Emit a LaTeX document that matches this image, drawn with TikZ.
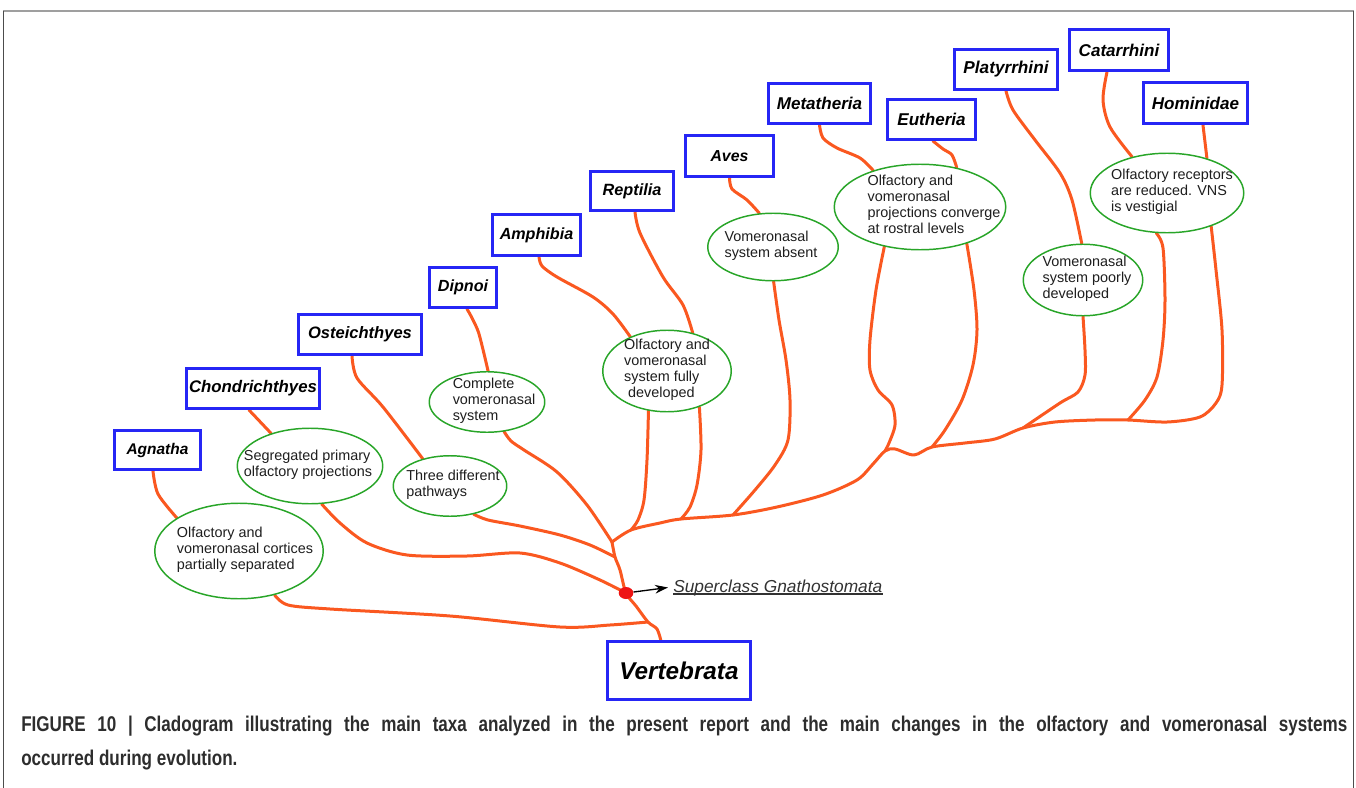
\documentclass[tikz,border=0pt]{standalone}
\usepackage{fontspec}
\setmainfont{Liberation Sans}
\newfontfamily\capfont[FakeStretch=0.8]{Liberation Sans}
\usetikzlibrary{shapes.geometric,arrows.meta}
\pgfdeclarelayer{background}
\pgfsetlayers{background,main}
\newdimen\pxu \pxu=0.75pt
\definecolor{taxblue}{RGB}{38,38,245}
\definecolor{brorange}{RGB}{250,88,32}
\definecolor{trgreen}{RGB}{40,165,40}
\definecolor{txtgray}{RGB}{30,30,30}
\definecolor{supgray}{RGB}{50,50,50}
\definecolor{capgray}{RGB}{45,45,45}
\definecolor{dotred}{RGB}{238,20,20}
\newcommand{\ztext}[2]{\makebox[0pt]{\hspace*{#1\pxu}\raisebox{-0.4em}{\smash{\begin{tabular}{@{}l@{}}#2\end{tabular}}}}}
\begin{document}
\begin{tikzpicture}[x=0.75pt,y=-0.75pt,
  sz/.style 2 args={minimum width={(#1)*0.75pt}, minimum height={(#2)*0.75pt}},
  tf/.style={font=\bfseries\itshape\fontsize{#1}{#1}\selectfont},
  taxon/.style={draw=taxblue, line width=2.25pt, fill=white, inner sep=0pt, text=black},
  trait/.style={ellipse, draw=trgreen, line width=1.1pt, fill=white, inner sep=0pt, text=txtgray,
    font=\fontsize{10.8}{12}\selectfont},
  branch/.style={draw=brorange, line width=2.25pt, line cap=round, line join=round},
]
\useasboundingbox (0,0) rectangle (1356,788);
% frame
\draw[gray!75, line width=1.5pt] (3,11) -- (1354,11);
\draw[black!70, line width=0.75pt] (3.5,11) -- (3.5,788);
\draw[black!70, line width=0.75pt] (1353.5,11) -- (1353.5,788);

% taxa boxes
\node[taxon, sz={86}{39},  tf=11.6] (agn) at (157.5,450)   {Agnatha};
\node[taxon, sz={133}{40}, tf=12.6] (cho) at (253,388.5)   {Chondrichthyes};
\node[taxon, sz={123}{40}, tf=12.4] (ost) at (360,334.5)   {Osteichthyes};
\node[taxon, sz={67}{40},  tf=12.1] (dip) at (463,287.5)   {Dipnoi};
\node[taxon, sz={88}{41},  tf=12.1] (amp) at (536.5,235)   {Amphibia};
\node[taxon, sz={83}{39},  tf=12.2] (rep) at (632,191)     {Reptilia};
\node[taxon, sz={88}{41},  tf=11.9] (ave) at (729.5,156)   {Aves};
\node[taxon, sz={102}{40}, tf=12.8] (met) at (819.5,103.5) {Metatheria};
\node[taxon, sz={88}{40},  tf=12.8] (eut) at (931.5,119.5) {Eutheria};
\node[taxon, sz={103}{40}, tf=12.9] (pla) at (1006,69.5)   {Platyrrhini};
\node[taxon, sz={99}{41},  tf=12.8] (cat) at (1119,50)     {Catarrhini};
\node[taxon, sz={104}{41}, tf=12.8] (hom) at (1195.5,103)  {Hominidae};
\node[taxon, sz={143}{58}, tf=18.2] (ver) at (679,670.5)   {Vertebrata};

% trait ellipses
\node[trait, sz={168.5}{95.5}] (e1) at (239,551) {\ztext{12}{Olfactory and\\vomeronasal cortices\\partially separated}};
\node[trait, sz={145.5}{75.5}] (e2) at (310,466) {\ztext{-4}{Segregated primary\\olfactory projections}};
\node[trait, sz={113.5}{60.5}] (e3) at (450,486) {\ztext{6}{Three different\\pathways}};
\node[trait, sz={115.5}{60.5}] (e4) at (487,402) {\ztext{14}{Complete\\vomeronasal\\system}};
\node[trait, sz={128.5}{81.5}] (e5) at (667,371) {\ztext{0}{Olfactory and\\vomeronasal\\system fully\\\hspace*{3pt}developed}};
\node[trait, sz={130.5}{67.5}] (e6) at (773,247) {\ztext{-4}{Vomeronasal\\system absent}};
\node[trait, sz={171.5}{85.5}] (e7) at (920,207) {\ztext{28}{Olfactory and\\vomeronasal\\projections converge\\at rostral levels}};
\node[trait, sz={119.5}{71.5}] (e8) at (1083,280) {\ztext{8}{Vomeronasal\\system poorly\\developed}};
\node[trait, sz={153.5}{79.5}] (e9) at (1167,193) {\ztext{10}{Olfactory receptors\\are reduced. VNS\\is vestigial}};

% junctions
\coordinate (vtop) at (661,641);
\coordinate (j0) at (648,622);
\coordinate (j1) at (615,557);
\coordinate (j2) at (612,542);
\coordinate (j3) at (631,530);
\coordinate (j4) at (681,519);
\coordinate (j5) at (733,515);
\coordinate (j6) at (885,451);
\coordinate (j7) at (932,447);
\coordinate (j8) at (1023,428);
\coordinate (j9) at (1128,420);

\node[ellipse, fill=dotred, inner sep=0pt, sz={14.6}{12}] (gn) at (626,593) {};

\begin{pgfonlayer}{background}
\draw[branch] plot[smooth] coordinates {([xshift=-3.4pt]agn.south) (158,494) (e1.152)};
\draw[branch] plot[smooth] coordinates {(e1.309) (288,605) (330,609) (450,616) (560,627) (610,625) (j0)};
\draw[branch] plot[smooth] coordinates {(vtop) (657,629) (j0) (636,606) (gn.center) (620,570) (j1) (j2)};
\draw[branch] ([xshift=-3pt]cho.south) -- (e2.140);
\draw[branch] plot[smooth] coordinates {(e2.287) (340,523) (367,543) (407,555) (467,556) (520,553) (560,563) (600,580) (gn.center)};
\draw[branch] plot[smooth] coordinates {([xshift=-6pt]ost.south) (357,378) (383,407) (e3.135)};
\draw[branch] plot[smooth] coordinates {(e3.310) (488,520) (520,526) (560,535) (590,545) (j1)};
\draw[branch] plot[smooth] coordinates {([xshift=3pt]dip.south) (472,318) (479,334) (e4.88)};
\draw[branch] plot[smooth] coordinates {(e4.300) (511,441) (524,450) (557,472) (587,505) (j2)};
\draw[branch] plot[smooth] coordinates {([xshift=1.9pt]amp.south) (542,266) (557,277) (593,297) (613,314) (e5.137)};
\draw[branch] plot[smooth] coordinates {([xshift=2.25pt]rep.south) (640,233) (663,277) (683,305) (e5.56)};
\draw[branch] plot[smooth] coordinates {(e5.245) (647,460) (644,500) (638,520) (j3)};
\draw[branch] plot[smooth] coordinates {(e5.312) (701,450) (697,485) (690,507) (j4)};
\draw[branch] plot[smooth] coordinates {(ave.south) (732,189) (747,200) (e6.112)};
\draw[branch] plot[smooth] coordinates {(e6.271) (779,320) (786,360) (790,400) (788,440) (775,465) (755,490) (j5)};
\draw[branch] plot[smooth] coordinates {(met.south) (823,138) (837,148) (860,158) (e7.142)};
\draw[branch] plot[smooth] coordinates {([xshift=1.1pt]eut.south) (943,149) (952,155) (e7.47)};
\draw[branch] plot[smooth] coordinates {(e7.228) (876,290) (870,340) (870,370) (878,390) (892,405) (895,425) (889,443) (j6)};
\draw[branch] plot[smooth] coordinates {(e7.322) (974,290) (977,330) (973,365) (962,400) (945,430) (j7)};
\draw[branch] plot[smooth] coordinates {(pla.south) (1013,110) (1035,140) (1060,173) (1072,200) (e8.92)};
\draw[branch] plot[smooth] coordinates {(e8.270) (1085,350) (1085,375) (1078,392) (1060,403) (j8)};
\draw[branch] plot[smooth] coordinates {([xshift=-9pt]cat.south) (1103,100) (1110,127) (e9.134)};
\draw[branch] ([xshift=5.6pt]hom.south) -- (e9.41);
\draw[branch] plot[smooth] coordinates {(e9.255) (1163,248) (1165,300) (1163,340) (1157,377) (1145,400) (j9)};
\draw[branch] plot[smooth] coordinates {(j2) (j3) (660,523) (j4) (j5) (777,507) (823,495) (857,480) (873,464) (j6) (895,449) (914,455) (j7) (965,443) (995,439) (j8) (1055,422) (1095,420) (j9) (1167,422) (1200,417) (1216,403) (1222,385) (1222,330) (1216,270) (e9.323)};
\end{pgfonlayer}

% superclass label
\node[anchor=base west, inner sep=0pt, font=\itshape\fontsize{13}{13}\selectfont, text=supgray] (sup) at (673,592) {Superclass Gnathostomata};
\draw[supgray, line width=0.9pt] ([yshift=-1.5pt]sup.base west) -- ([yshift=-1.5pt]sup.base east);
\draw[black, line width=1pt, -{Stealth[length=9.75pt,width=6.5pt]}] (gn) -- ([xshift=-3.75pt]sup.west);

% caption
\node[anchor=base west, inner sep=0pt, text=capgray, font=\capfont\bfseries\fontsize{16}{16}\selectfont] (cap1) at (21,731)
  {\makebox[994.5pt][s]{FIGURE 10 | Cladogram illustrating the main taxa analyzed in the present report and the main changes in the olfactory and vomeronasal systems}};
\node[anchor=base west, inner sep=0pt, text=capgray, font=\capfont\bfseries\fontsize{16}{16}\selectfont] (cap2) at (21,765)
  {occurred during evolution.};
\end{tikzpicture}
\end{document}
